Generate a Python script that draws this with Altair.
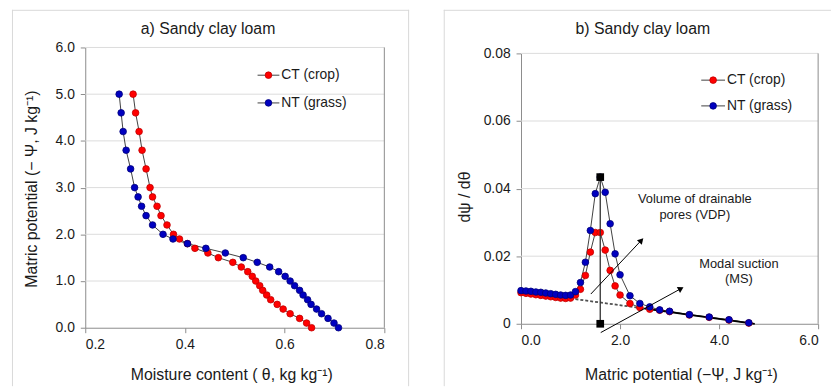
import altair as alt
import pandas as pd

# ---------------- Panel a: water retention curve ----------------
psi_levels = [5.0, 4.6, 4.2, 3.8, 3.4, 3.0, 2.8, 2.6, 2.4, 2.2, 2.0, 1.9, 1.8, 1.7, 1.6,
              1.5, 1.4, 1.3, 1.2, 1.1, 1.0, 0.9, 0.8, 0.7, 0.6, 0.5, 0.4, 0.3, 0.2, 0.1, 0.0]
theta_ct = [0.296, 0.301, 0.308, 0.314, 0.322, 0.330, 0.335, 0.344, 0.352, 0.364, 0.377,
            0.389, 0.405, 0.420, 0.446, 0.467, 0.496, 0.513, 0.526, 0.535, 0.542, 0.550,
            0.556, 0.564, 0.572, 0.585, 0.597, 0.611, 0.630, 0.644, 0.654]
theta_nt = [0.268, 0.272, 0.276, 0.282, 0.291, 0.299, 0.306, 0.313, 0.322, 0.335, 0.356,
            0.376, 0.405, 0.442, 0.481, 0.517, 0.545, 0.570, 0.588, 0.601, 0.611, 0.620,
            0.630, 0.637, 0.646, 0.653, 0.664, 0.674, 0.687, 0.699, 0.708]
a_xticks = [0.2, 0.4, 0.6, 0.8]
a_yticks = [0, 1, 2, 3, 4, 5, 6]

# ---------------- Panel b: derivative curve ----------------
psi_mid = [0.0, 0.1, 0.2, 0.3, 0.4, 0.5, 0.6, 0.7, 0.8, 0.9, 1.0,
           1.1, 1.2, 1.3, 1.4, 1.5, 1.6, 1.7, 1.8, 1.9, 2.0,
           2.2, 2.4, 2.6, 2.8, 3.0, 3.4, 3.8, 4.2, 4.6]
dpsi_ct = [0.0092, 0.0090, 0.0088, 0.0086, 0.0084, 0.0082, 0.0080, 0.0078, 0.0076, 0.0075, 0.0076,
           0.0085, 0.0102, 0.0143, 0.0212, 0.0270, 0.0270, 0.0218, 0.0158, 0.0112, 0.0085,
           0.0060, 0.0048, 0.0043, 0.0040, 0.0036, 0.0026, 0.0019, 0.0011, 0.0002]
dpsi_nt = [0.0098, 0.0097, 0.0096, 0.0094, 0.0093, 0.0091, 0.0089, 0.0087, 0.0085, 0.0084, 0.0085,
           0.0095, 0.0122, 0.0182, 0.0276, 0.0385, 0.0434, 0.0389, 0.0296, 0.0207, 0.0145,
           0.0083, 0.0060, 0.0050, 0.0041, 0.0037, 0.0027, 0.0020, 0.0012, 0.0003]
b_xticks = [0, 2, 4, 6]
b_yticks = [0, 0.02, 0.04, 0.06, 0.08]

modal_x = [1.6, 1.6]
modal_y = [0.0, 0.0434]
base_dash_x = [1.0, 2.5]
base_dash_y = [0.0075, 0.0045]
base_solid_x = [2.5, 4.72]
base_solid_y = [0.0045, 0.0]
arrow_vdp_x = [1.41, 2.43]
arrow_vdp_y = [0.0088, 0.0247]
arrow_ms_x = [1.61, 3.23]
arrow_ms_y = [-0.0026, 0.0104]
ann_text = ["Volume of drainable", "pores (VDP)", "Modal suction", "(MS)"]
ann_x = [3.51, 3.51, 4.4, 4.4]
ann_y = [0.0368, 0.0322, 0.0178, 0.0132]

series = ["CT (crop)", "NT (grass)"]

# ---------------- styles / layout ----------------
RED, RED_EDGE = "#ff0000", "#c00000"
BLUE, BLUE_EDGE = "#0000c0", "#00007a"
LINE = "#404040"
FRAME = "#d9d9d9"
AXIS = "#8c8c8c"
GRID = "#dcdcdc"
FONT = "Liberation Sans"
TXT = "#1a1a1a"
W, H = 831, 380

# pixel ranges of the two plot areas inside the single view
xa_s = alt.Scale(domain=[0.2, 0.8], range=[78, 380], nice=False, zero=False)
ya_s = alt.Scale(domain=[0, 6], range=[321, 38], nice=False)
xb_s = alt.Scale(domain=[0, 6], range=[518, 818], nice=False)
yb_s = alt.Scale(domain=[0, 0.08], range=[317, 44], nice=False)

one = pd.DataFrame({"a": [0]})


def txt(s, x, y, size=16, angle=0, align="center"):
    return alt.Chart(one).mark_text(text=s, font=FONT, fontSize=size, color=TXT, angle=angle,
                                    align=align, baseline="middle").encode(
        x=alt.value(x), y=alt.value(y))


def frame_rule(x, y, x2=None, y2=None, color=FRAME):
    enc = {"x": alt.value(x), "y": alt.value(y)}
    if x2 is not None:
        enc["x2"] = alt.value(x2)
    if y2 is not None:
        enc["y2"] = alt.value(y2)
    return alt.Chart(one).mark_rule(color=color, strokeWidth=1).encode(**enc)


def legend_entry(x0, x1, y, color, edge, label):
    ln = frame_rule(x0, y, x2=x1, color=LINE)
    pt = alt.Chart(one).mark_point(filled=True, size=45, fill=color, stroke=edge,
                                   strokeWidth=0.8, opacity=1).encode(
        x=alt.value((x0 + x1) / 2), y=alt.value(y))
    return ln + pt + txt(label, x1 + 2, y, size=14, align="left")


fill_scale = alt.Scale(domain=series, range=[RED, BLUE])
stroke_scale = alt.Scale(domain=series, range=[RED_EDGE, BLUE_EDGE])


def panel_layers(df, xf, yf, xs, ys, xticks, yticks, xoff, yoff, yfmt_expr):
    base = alt.Chart(df)
    gdf = pd.DataFrame({"g": yticks[1:], "x0": xs.domain[0], "x1": xs.domain[1]})
    grid = alt.Chart(gdf).mark_rule(color=GRID, strokeWidth=1).encode(
        x=alt.X("x0:Q", scale=xs, axis=None), x2="x1:Q",
        y=alt.Y("g:Q", scale=ys, axis=None))
    bdf = pd.DataFrame({"x": [xs.domain[1]], "y0": [ys.domain[0]], "y1": [ys.domain[1]]})
    border = alt.Chart(bdf).mark_rule(color=AXIS, strokeWidth=1).encode(
        x=alt.X("x:Q", scale=xs, axis=None),
        y=alt.Y("y0:Q", scale=ys, axis=None), y2="y1:Q")
    lines = base.mark_line(color=LINE, strokeWidth=1).encode(
        x=alt.X(f"{xf}:Q", scale=xs,
                axis=alt.Axis(values=xticks, format=".1f", title=None, grid=False,
                              orient="bottom", offset=xoff, labelPadding=5)),
        y=alt.Y(f"{yf}:Q", scale=ys,
                axis=alt.Axis(values=yticks, title=None, grid=False, orient="left",
                              offset=yoff, labelPadding=6, labelExpr=yfmt_expr)),
        detail="s:N", order="o:Q")
    pts = base.mark_point(filled=True, size=45, strokeWidth=0.8, opacity=1).encode(
        x=alt.X(f"{xf}:Q", scale=xs, axis=None),
        y=alt.Y(f"{yf}:Q", scale=ys, axis=None),
        fill=alt.Fill("s:N", scale=fill_scale, legend=None),
        stroke=alt.Stroke("s:N", scale=stroke_scale, legend=None),
        order=alt.Order("s:N"))
    return grid, border, lines, pts


dfa = pd.concat([
    pd.DataFrame({"theta": theta_ct, "psi": psi_levels, "s": series[0], "o": range(len(psi_levels))}),
    pd.DataFrame({"theta": theta_nt, "psi": psi_levels, "s": series[1], "o": range(len(psi_levels))}),
])
dfb = pd.concat([
    pd.DataFrame({"psi": psi_mid, "d": dpsi_ct, "s": series[0], "o": range(len(psi_mid))}),
    pd.DataFrame({"psi": psi_mid, "d": dpsi_nt, "s": series[1], "o": range(len(psi_mid))}),
])

ga, bra, la, pa = panel_layers(dfa, "theta", "psi", xa_s, ya_s, a_xticks, a_yticks,
                               -(H - 321), -78, "format(datum.value, '.1f')")
gb, brb, lb, pb = panel_layers(dfb, "psi", "d", xb_s, yb_s, b_xticks, b_yticks,
                               -(H - 317), -518,
                               "datum.value == 0 ? '0' : format(datum.value, '.2f')")


def seg(xs, ys, shape=None, **kw):
    d = pd.DataFrame({"px": xs, "py": ys})
    if shape is None:
        m = alt.Chart(d).mark_line(**kw)
    else:
        m = alt.Chart(d).mark_point(shape=shape, filled=True, opacity=1, **kw)
    return m.encode(x=alt.X("px:Q", scale=xb_s, axis=None),
                    y=alt.Y("py:Q", scale=yb_s, axis=None))


modal_line = seg(modal_x, modal_y, color="#303030", strokeWidth=1.3)
modal_pts = seg(modal_x, modal_y, shape="square", size=60, color="#000000")
dash_line = seg(base_dash_x, base_dash_y, color="#505050", strokeWidth=1.8, strokeDash=[3, 2])
solid_line = seg(base_solid_x, base_solid_y, color="#000000", strokeWidth=1.8)
arrow1 = seg(arrow_vdp_x, arrow_vdp_y, color="#000000", strokeWidth=1)
arrow2 = seg(arrow_ms_x, arrow_ms_y, color="#000000", strokeWidth=1)
head1 = seg(arrow_vdp_x[1:], arrow_vdp_y[1:], shape="triangle-up", size=45, color="#000000", angle=43)
head2 = seg(arrow_ms_x[1:], arrow_ms_y[1:], shape="triangle-up", size=45, color="#000000", angle=61)
ann = alt.Chart(pd.DataFrame({"px": ann_x, "py": ann_y, "t": ann_text})).mark_text(
    font=FONT, fontSize=13, color=TXT, align="center", baseline="middle").encode(
    x=alt.X("px:Q", scale=xb_s, axis=None), y=alt.Y("py:Q", scale=yb_s, axis=None), text="t:N")

chart = alt.layer(
    frame_rule(4.5, 0, y2=H), frame_rule(404.5, 0, y2=H), frame_rule(4, 0.5, x2=405),
    frame_rule(440.5, 0, y2=H), frame_rule(440, 0.5, x2=W),
    ga, bra, la, pa,
    txt("a) Sandy clay loam", 202, 19),
    txt("Matric potential  (− Ψ,  J kg⁻¹)", 24, 181, angle=270),
    txt("Moisture content  ( θ,  kg kg⁻¹)", 226, 369),
    legend_entry(252, 274, 66, RED, RED_EDGE, "CT (crop)"),
    legend_entry(252, 274, 94, BLUE, BLUE_EDGE, "NT (grass)"),
    gb, brb, lb, dash_line, solid_line, pb, modal_line, modal_pts,
    arrow1, arrow2, head1, head2, ann,
    txt("b) Sandy clay loam", 641, 19),
    txt("dψ / dθ", 461, 189, angle=270),
    txt("Matric potential  (−Ψ,  J kg⁻¹)", 680, 369),
    legend_entry(700, 724, 71, RED, RED_EDGE, "CT (crop)"),
    legend_entry(700, 724, 97, BLUE, BLUE_EDGE, "NT (grass)"),
).resolve_scale(x="independent", y="independent").properties(
    width=W, height=H, padding=0, autosize=alt.AutoSizeParams(type="none")
).configure_view(stroke=None).configure_axis(
    domainColor=AXIS, tickColor=AXIS, tickSize=5, labelFont=FONT, labelFontSize=14,
    labelColor=TXT, domainWidth=1
)

chart.save("out.html", embed_options={"renderer": "svg", "actions": False})
